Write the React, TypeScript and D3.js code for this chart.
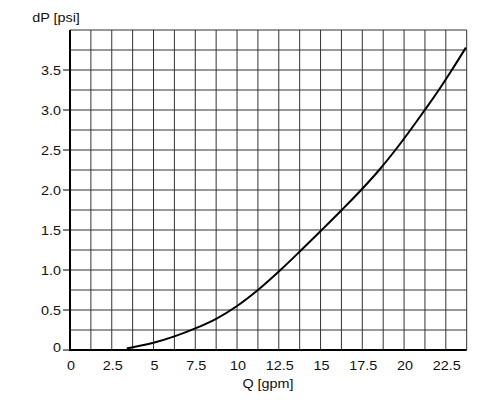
import * as d3 from "d3";

// flow rate [gpm] and pressure drop [psi]
const flowQ = [3.4, 5, 6.25, 7.5, 8.75, 10, 11.25, 12.6, 13.85, 15.07, 16.27, 17.43, 18.51, 19.48, 20.38, 21.24, 22.08, 22.86, 23.7];
const dropP = [0.02, 0.09, 0.17, 0.27, 0.39, 0.55, 0.75, 1.0, 1.25, 1.5, 1.75, 2.0, 2.25, 2.5, 2.75, 3.0, 3.25, 3.5, 3.78];

const xTicks = [0, 2.5, 5, 7.5, 10, 12.5, 15, 17.5, 20, 22.5];
const xTickLabels = ["0", "2.5", "5", "7.5", "10", "12.5", "15", "17.5", "20", "22.5"];
const yTicks = [0, 0.5, 1, 1.5, 2, 2.5, 3, 3.5];
const yTickLabels = ["0", "0.5", "1.0", "1.5", "2.0", "2.5", "3.0", "3.5"];

const xGrid = d3.range(1, 20).map((i) => i * 1.25);
const yGrid = d3.range(1, 17).map((i) => i * 0.25);

const W = 500;
const H = 404;
const FONT = "'Liberation Sans', Arial, sans-serif";
const STRETCH = 1.15;

export default function App() {
  const x = d3.scaleLinear().domain([0, 23.75]).range([70, 466.7]);
  const y = d3.scaleLinear().domain([0, 4]).range([350, 30]);

  const points = flowQ.map((q, i) => [q, dropP[i]] as [number, number]);
  const line = d3
    .line<[number, number]>()
    .x((d) => x(d[0]))
    .y((d) => y(d[1]))
    .curve(d3.curveMonotoneX);

  const label = (tx: number, ty: number, text: string, anchor: string, key?: string) => (
    <text
      key={key}
      transform={`translate(${tx},${ty}) scale(${STRETCH},1)`}
      textAnchor={anchor}
      fontSize={12.5}
      fontFamily={FONT}
      fill="#111"
    >
      {text}
    </text>
  );

  return (
    <svg
      width={W}
      height={H}
      style={{ position: "absolute", left: 0, top: 0, background: "#fff" }}
    >
      {/* grid */}
      <g stroke="#333" strokeWidth={1} fill="none">
        {xGrid.map((v) => (
          <line key={"gx" + v} x1={x(v)} x2={x(v)} y1={y(0)} y2={y(4)} />
        ))}
        {yGrid.map((v) => (
          <line key={"gy" + v} x1={x(0)} x2={x(23.75)} y1={y(v)} y2={y(v)} />
        ))}
      </g>

      {/* axes */}
      <line x1={x(0)} x2={x(0)} y1={y(4)} y2={y(0) + 1} stroke="#000" strokeWidth={2} />
      <line x1={x(0) - 1} x2={x(23.75)} y1={y(0)} y2={y(0)} stroke="#000" strokeWidth={2} />
      {yTicks.map((v) => (
        <line key={"yt" + v} x1={x(0) - 7} x2={x(0)} y1={y(v)} y2={y(v)} stroke="#000" strokeWidth={1} />
      ))}

      {/* curve */}
      <path d={line(points) ?? ""} fill="none" stroke="#000" strokeWidth={2} />

      {/* tick labels */}
      {yTicks.map((v, i) =>
        label(61, v === 0 ? y(v) + 2 : y(v) + 5, yTickLabels[i], "end", "yl" + v)
      )}
      {xTicks.map((v, i) => label(x(v) + 1, 370, xTickLabels[i], "middle", "xl" + v))}

      {/* axis titles */}
      {label(268, 388, "Q [gpm]", "middle")}
      {label(56, 22, "dP [psi]", "middle")}
    </svg>
  );
}
